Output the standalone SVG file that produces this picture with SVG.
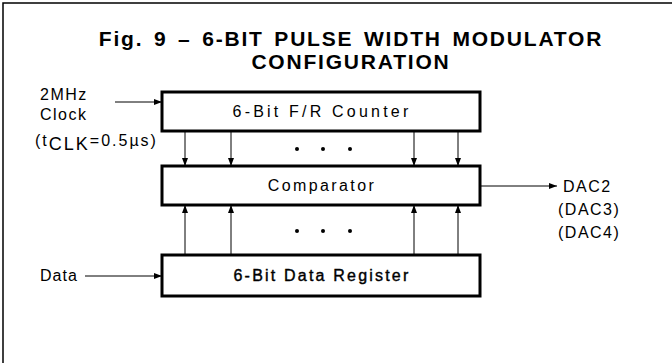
<svg xmlns="http://www.w3.org/2000/svg" width="672" height="363" viewBox="0 0 672 363">
<defs>
<style>
.t{font-family:"Liberation Sans",Arial,Helvetica,sans-serif;font-size:16px;fill:#000}
.ttl{font-family:"Liberation Sans",Arial,Helvetica,sans-serif;font-size:21px;font-weight:bold;fill:#000;letter-spacing:1.8px;word-spacing:3px}
.box{fill:#fff;stroke:#000;stroke-width:3}
.ln{stroke:#000;stroke-width:1;fill:none}
</style>
<marker id="ah" markerWidth="8" markerHeight="6" refX="8" refY="3" orient="auto" markerUnits="userSpaceOnUse">
<path d="M0,0 L8,3 L0,6 Z" fill="#000"/>
</marker>
</defs>
<rect width="672" height="363" fill="#fff"/>
<g id="frame">
<path d="M3,363 V3 H672" stroke="#000" stroke-width="1.5" fill="none"/>
</g>
<g id="title">
<text class="ttl" x="351" y="46" text-anchor="middle">Fig. 9 – 6-BIT PULSE WIDTH MODULATOR</text>
<text class="ttl" x="351" y="69" text-anchor="middle">CONFIGURATION</text>
</g>
<g id="connectors">
<line class="ln" x1="115" y1="102" x2="162" y2="102" marker-end="url(#ah)"/>
<line class="ln" x1="85" y1="276" x2="162" y2="276" marker-end="url(#ah)"/>
<line class="ln" x1="480" y1="186" x2="557" y2="186" marker-end="url(#ah)"/>
<line class="ln" x1="185" y1="131" x2="185" y2="166" marker-end="url(#ah)"/>
<line class="ln" x1="231" y1="131" x2="231" y2="166" marker-end="url(#ah)"/>
<line class="ln" x1="414" y1="131" x2="414" y2="166" marker-end="url(#ah)"/>
<line class="ln" x1="458" y1="131" x2="458" y2="166" marker-end="url(#ah)"/>
<line class="ln" x1="185" y1="255" x2="185" y2="205" marker-end="url(#ah)"/>
<line class="ln" x1="231" y1="255" x2="231" y2="205" marker-end="url(#ah)"/>
<line class="ln" x1="414" y1="255" x2="414" y2="205" marker-end="url(#ah)"/>
<line class="ln" x1="458" y1="255" x2="458" y2="205" marker-end="url(#ah)"/>
<circle cx="297" cy="149" r="2"/><circle cx="323" cy="149" r="2"/><circle cx="350" cy="149" r="2"/>
<circle cx="297" cy="231" r="2"/><circle cx="323" cy="231" r="2"/><circle cx="350" cy="231" r="2"/>
</g>
<g id="counter">
<rect class="box" x="162" y="92" width="318" height="39"/>
<text class="t" x="322" y="117" text-anchor="middle" letter-spacing="3.2">6-Bit F/R Counter</text>
</g>
<g id="comparator">
<rect class="box" x="162" y="166" width="318" height="39"/>
<text class="t" x="322" y="191" text-anchor="middle" letter-spacing="2.4">Comparator</text>
</g>
<g id="register">
<rect class="box" x="162" y="255" width="318" height="41"/>
<text class="t" x="322" y="281" text-anchor="middle" letter-spacing="2.2" stroke="#000" stroke-width="0.4">6-Bit Data Register</text>
</g>
<g id="labels">
<text class="t" x="40" y="100" letter-spacing="1.5">2MHz</text>
<text class="t" x="40" y="120" letter-spacing="1.5">Clock</text>
<text class="t" x="35" y="146" letter-spacing="2">(t<tspan font-size="18" dy="4">CLK</tspan><tspan dy="-4">=0.5µs)</tspan></text>
<text class="t" x="40" y="281" letter-spacing="1">Data</text>
<text class="t" x="563" y="192" font-size="15" letter-spacing="1.5">DAC2</text>
<text class="t" x="558" y="215" font-size="15" letter-spacing="1.5">(DAC3)</text>
<text class="t" x="558" y="238" font-size="15" letter-spacing="1.5">(DAC4)</text>
</g>
</svg>
